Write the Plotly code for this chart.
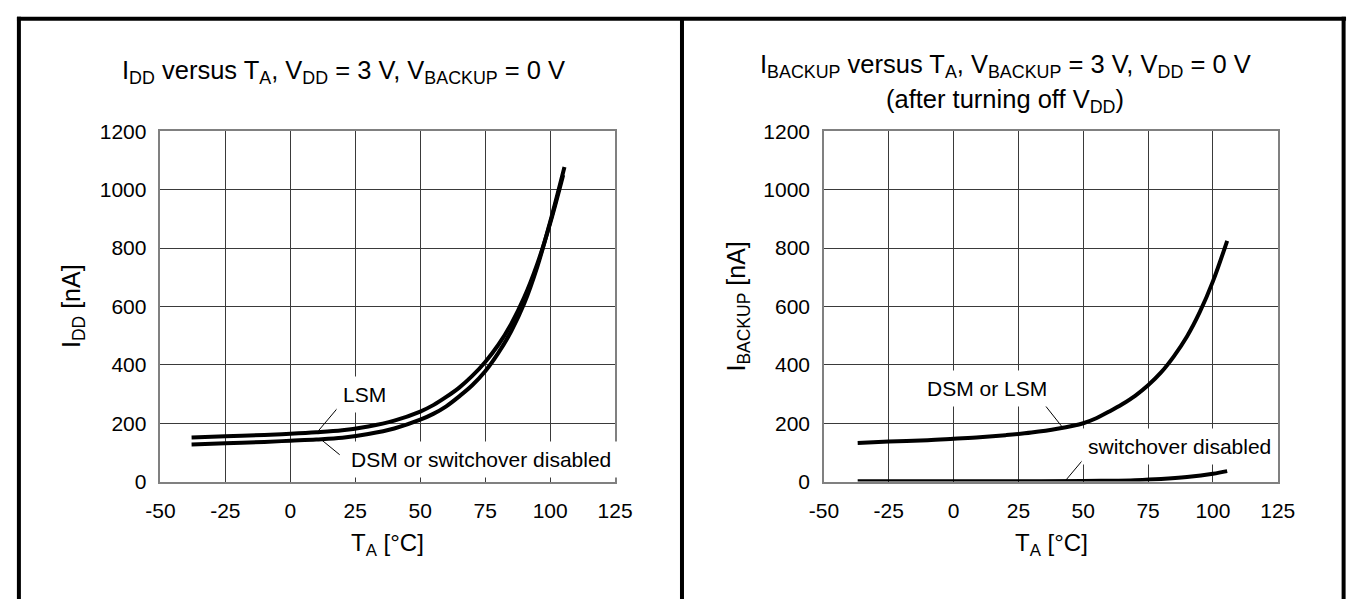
import plotly.graph_objects as go

W, H = 1366, 610

# ---- data ----
temp_lsm = [-38, -25, -10, 0, 10, 20, 30, 40, 50, 55, 60, 65, 70, 75, 80, 85, 90, 95, 100, 105]
idd_lsm = [151, 155, 160, 164, 169, 176, 189, 209, 240, 262, 290, 322, 362, 410, 468, 540, 631, 745, 885, 1050]

temp_dsm = [-38, -25, -10, 0, 10, 20, 30, 40, 50, 55, 60, 65, 70, 75, 80, 85, 90, 95, 100, 105.5]
idd_dsm = [127, 131, 136, 140, 144, 150, 163, 182, 212, 232, 258, 292, 330, 378, 440, 515, 610, 735, 890, 1078]

temp_bk = [-37, -25, -10, 0, 10, 20, 30, 40, 50, 55, 60, 65, 70, 75, 80, 85, 90, 95, 100, 105.5]
ibk_dsm_lsm = [132, 137, 142, 147, 152, 159, 168, 181, 200, 217, 240, 265, 294, 330, 374, 430, 497, 582, 686, 825]

temp_off = [-37, -25, 0, 25, 50, 60, 70, 80, 90, 100, 105.5]
ibk_off = [1, 1, 1, 1, 2, 3, 5, 9, 16, 27, 36]

x_ticks = [-50, -25, 0, 25, 50, 75, 100, 125]
x_tick_text = ["-50", "-25", "0", "25", "50", "75", "100", "125"]
y_ticks = [0, 200, 400, 600, 800, 1000, 1200]
y_tick_text = ["0", "200", "400", "600", "800", "1000", "1200"]

FONT = "Liberation Sans, Arial, sans-serif"

fig = go.Figure()
line_style = dict(color="black", width=4)
fig.add_trace(go.Scatter(x=temp_lsm, y=idd_lsm, mode="lines", line=line_style, line_shape="spline", name="LSM", xaxis="x", yaxis="y"))
fig.add_trace(go.Scatter(x=temp_dsm, y=idd_dsm, mode="lines", line=line_style, line_shape="spline", name="DSM or switchover disabled", xaxis="x", yaxis="y"))
fig.add_trace(go.Scatter(x=temp_bk, y=ibk_dsm_lsm, mode="lines", line=line_style, line_shape="spline", name="DSM or LSM", xaxis="x2", yaxis="y2"))
fig.add_trace(go.Scatter(x=temp_off, y=ibk_off, mode="lines", line=line_style, line_shape="spline", name="switchover disabled", xaxis="x2", yaxis="y2"))


def px_x(p):
    return p / W


def px_y(p):
    return 1 - p / H


axis_common = dict(
    showgrid=True, gridcolor="#3a3a3a", gridwidth=1,
    showline=True, linecolor="#808080", linewidth=1.5, mirror=True,
    zeroline=False, ticks="", tickfont=dict(family=FONT, size=21, color="black"),
)

xa = dict(axis_common, range=[-50, 125], tickmode="array", tickvals=x_ticks, ticktext=x_tick_text, ticklabelstandoff=9)
ya = dict(axis_common, range=[0, 1200], tickmode="array", tickvals=y_ticks, ticktext=y_tick_text, ticklabelstandoff=8)

fig.update_layout(
    width=W, height=H, margin=dict(l=0, r=0, t=0, b=0),
    paper_bgcolor="white", plot_bgcolor="white", showlegend=False,
    font=dict(family=FONT, color="black"),
    xaxis=dict(xa, domain=[px_x(149), px_x(615)], anchor="y"),
    yaxis=dict(ya, domain=[px_y(488), px_y(124)], anchor="x"),
    xaxis2=dict(xa, domain=[px_x(829), px_x(1294)], anchor="y2"),
    yaxis2=dict(ya, domain=[px_y(488), px_y(124)], anchor="x2"),
)

ann = []
# titles
ann.append(dict(text="I<sub>DD</sub> versus T<sub>A</sub>, V<sub>DD</sub> = 3 V, V<sub>BACKUP</sub> = 0 V",
                x=px_x(337), y=px_y(62), font=dict(size=25.5)))
ann.append(dict(text="I<sub>BACKUP</sub> versus T<sub>A</sub>, V<sub>BACKUP</sub> = 3 V, V<sub>DD</sub> = 0 V",
                x=px_x(1015), y=px_y(56), font=dict(size=25.5)))
ann.append(dict(text="(after turning off V<sub>DD</sub>)",
                x=px_x(1015), y=px_y(93), font=dict(size=25.5)))
# axis titles
ann.append(dict(text="T<sub>A</sub> [°C]", x=px_x(382), y=px_y(553), font=dict(size=24)))
ann.append(dict(text="T<sub>A</sub> [°C]", x=px_x(1062), y=px_y(553), font=dict(size=24)))
ann.append(dict(text="I<sub>DD</sub> [nA]", x=px_x(60), y=px_y(306), textangle=-90, font=dict(size=25)))
ann.append(dict(text="I<sub>BACKUP</sub> [nA]", x=px_x(741), y=px_y(306), textangle=-90, font=dict(size=25)))
for a in ann:
    a.update(xref="paper", yref="paper", showarrow=False, xanchor="center", yanchor="middle")
    a["font"].update(family=FONT, color="black")

# curve labels (data coordinates, white boxes hide grid lines)
labels = [
    dict(text="LSM", x=28.5, y=300, xref="x", yref="y"),
    dict(text="DSM or switchover disabled", x=20.5, y=76, xref="x", yref="y", xanchor="left"),
    dict(text="DSM or LSM", x=13, y=318, xref="x2", yref="y2"),
    dict(text="switchover disabled", x=49, y=119, xref="x2", yref="y2", xanchor="left"),
]
for l in labels:
    l.setdefault("xanchor", "center")
    l.update(showarrow=False, yanchor="middle", bgcolor="white", borderpad=6,
             font=dict(family=FONT, size=21, color="black"))
    ann.append(l)

fig.update_layout(annotations=ann)

shapes = []
# leader lines
leaders = [
    ("x", "y", 18.2, 252, 10.8, 174),
    ("x", "y", 19.0, 92, 11.6, 146),
    ("x2", "y2", 35.3, 261, 41.8, 188),
    ("x2", "y2", 50.0, 76, 43.1, 3),
]
for xr, yr, x0, y0, x1, y1 in leaders:
    shapes.append(dict(type="line", xref=xr, yref=yr, x0=x0, y0=y0, x1=x1, y1=y1,
                       line=dict(color="black", width=1)))
# outer frame and divider
frame = dict(color="black", width=4)
shapes.append(dict(type="line", xref="paper", yref="paper", x0=px_x(2), x1=px_x(1364), y0=px_y(7), y1=px_y(7), line=frame))
shapes.append(dict(type="line", xref="paper", yref="paper", x0=px_x(4), x1=px_x(4), y0=px_y(5), y1=0, line=frame))
shapes.append(dict(type="line", xref="paper", yref="paper", x0=px_x(1361.5), x1=px_x(1361.5), y0=px_y(5), y1=0, line=frame))
shapes.append(dict(type="line", xref="paper", yref="paper", x0=px_x(683.5), x1=px_x(683.5), y0=px_y(7), y1=0, line=frame))
fig.update_layout(shapes=shapes)

fig.write_html(
    "out.html",
    config={"displayModeBar": False},
    post_script="document.body.style.margin='0';document.body.style.overflow='hidden';",
)
